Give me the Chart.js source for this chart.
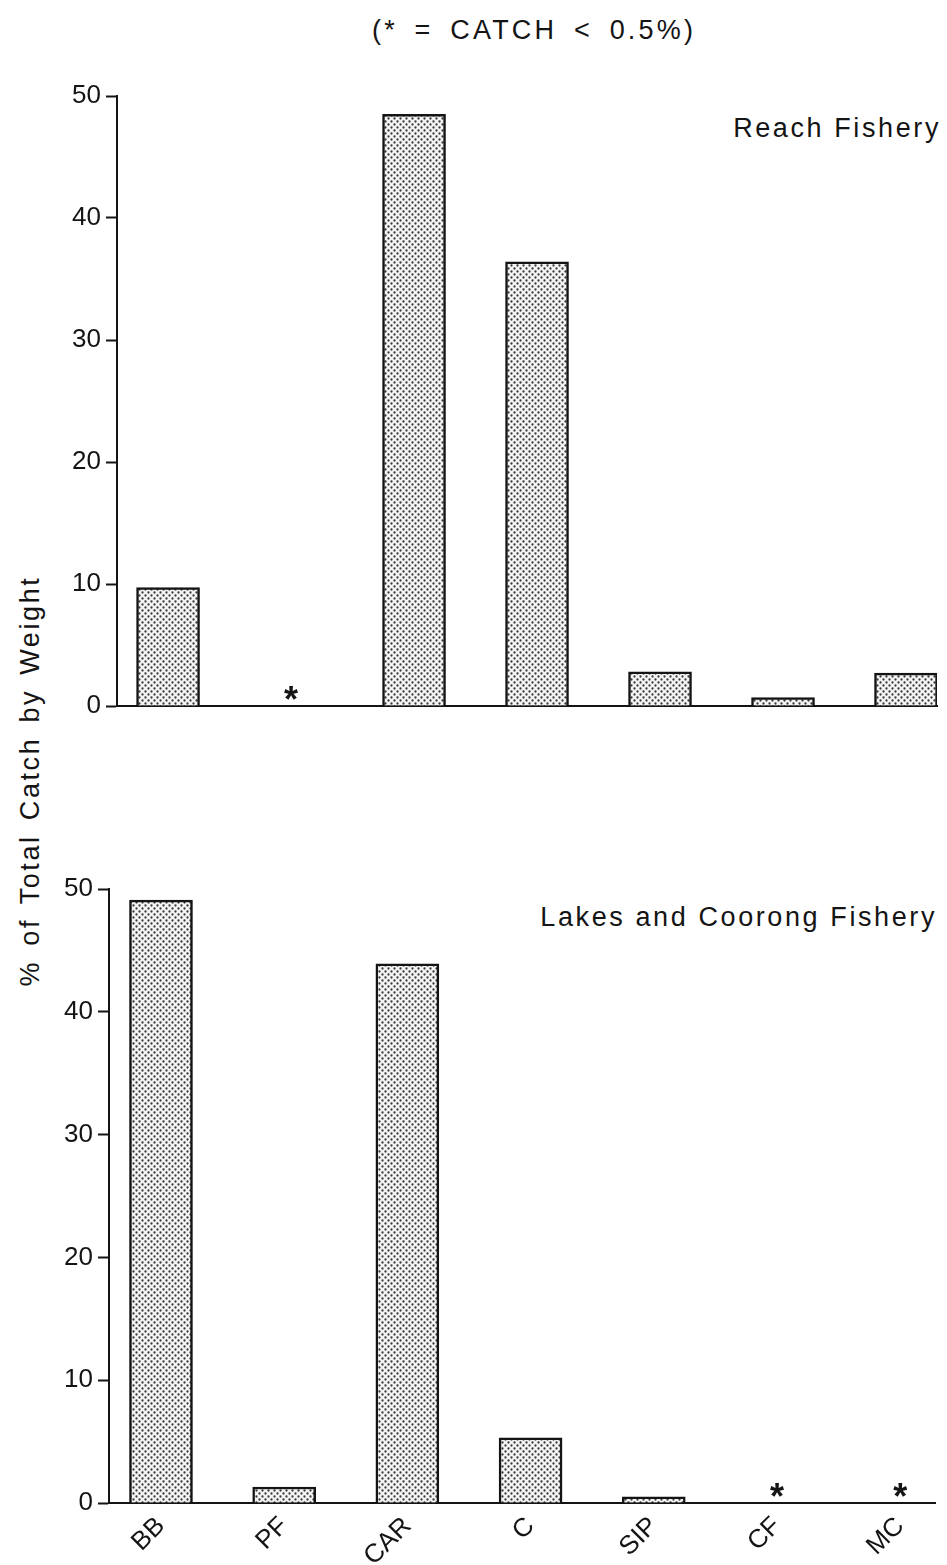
<!DOCTYPE html>
<html>
<head>
<meta charset="utf-8">
<script src="https://cdn.jsdelivr.net/npm/chart.js@4/dist/chart.umd.min.js"></script>
<style>
  html, body { margin: 0; padding: 0; background: #fff; }
  body {
    width: 947px; height: 1565px; position: relative; overflow: hidden;
    font-family: "Liberation Sans", Arial, Helvetica, sans-serif; color: #141414;
  }
  canvas { position: absolute; left: 0; }
  #reachCanvas { top: 0; }
  #lakesCanvas { top: 760px; }
  .note { position: absolute; font-size: 27px; letter-spacing: 2.6px; white-space: nowrap; line-height: 1; }
  #heading { left: 372px; top: 17px; letter-spacing: 3.2px; word-spacing: 6px; }
  #reachLabel { right: 6px; top: 115px; }
  #lakesLabel { right: 10px; top: 904px; }
  #yTitle { left: 30px; top: 781px; transform: translate(-50%, -50%) rotate(-90deg); word-spacing: 4px; }
</style>
</head>
<body>
<div class="note" id="heading">(* = CATCH &lt; 0.5%)</div>
<div class="note" id="reachLabel">Reach Fishery</div>
<div class="note" id="lakesLabel">Lakes and Coorong Fishery</div>
<div class="note" id="yTitle">% of Total Catch by Weight</div>
<canvas id="reachCanvas" width="947" height="760"></canvas>
<canvas id="lakesCanvas" width="947" height="805"></canvas>
<script>
// Species groups along the x axis
const categories = ['BB', 'PF', 'CAR', 'C', 'SIP', 'CF', 'MC'];
// % of total catch by weight; null = trace catch (< 0.5 %), shown as '*'
const reachCatch = [9.7, null, 48.5, 36.4, 2.8, 0.7, 2.7];
const lakesCatch = [49.1, 1.3, 43.9, 5.3, 0.5, null, null];
const yTicks = [0, 10, 20, 30, 40, 50];
const traceMark = '*';

const FONT = '"Liberation Sans", Arial, Helvetica, sans-serif';
const INK = '#141414';

// Dotted screen fill used for the bars
function stipple() {
  const t = document.createElement('canvas');
  t.width = 6; t.height = 6;
  const c = t.getContext('2d');
  c.fillStyle = '#f4f4f4';
  c.fillRect(0, 0, 6, 6);
  c.fillStyle = '#3a3a3a';
  [[1.5, 1.5], [4.5, 4.5]].forEach(([dx, dy]) => {
    c.beginPath();
    c.arc(dx, dy, 1.15, 0, Math.PI * 2);
    c.fill();
  });
  return c.createPattern(t, 'repeat');
}

// Asterisks for trace catches, placed just above the zero line
const traceMarks = {
  id: 'traceMarks',
  afterDatasetsDraw(chart) {
    const { ctx, scales: { x, y } } = chart;
    ctx.save();
    ctx.font = 'bold 36px ' + FONT;
    ctx.fillStyle = INK;
    ctx.textAlign = 'center';
    ctx.textBaseline = 'alphabetic';
    const m = ctx.measureText(traceMark);
    chart.data.datasets[0].data.forEach(pt => {
      if (pt.y !== null) return;
      const cx = x.getPixelForValue(pt.x);
      const cy = y.getPixelForValue(0) - 13;
      ctx.fillText(traceMark, cx, cy + (m.actualBoundingBoxAscent - m.actualBoundingBoxDescent) / 2);
    });
    ctx.restore();
  }
};

function makePanel(canvas, values, cfg) {
  const fill = stipple();
  return new Chart(canvas, {
    type: 'bar',
    data: {
      datasets: [{
        data: values.map((v, i) => ({ x: i, y: v })),
        backgroundColor: fill,
        borderColor: INK,
        borderWidth: 2.5,
        barThickness: 63
      }]
    },
    options: {
      responsive: false,
      animation: false,
      events: [],
      layout: { padding: { top: cfg.padTop, right: cfg.padRight, left: 0, bottom: 0 } },
      plugins: { legend: { display: false }, tooltip: { enabled: false }, title: { display: false } },
      scales: {
        x: {
          type: 'linear',
          min: cfg.xMin,
          max: cfg.xMax,
          offset: false,
          afterBuildTicks: s => { s.ticks = categories.map((_, i) => ({ value: i })); },
          afterFit: s => { s.height = cfg.axisHeight; },
          grid: { display: false, drawTicks: false },
          border: { display: true, color: INK, width: 2 },
          ticks: {
            display: cfg.showLabels,
            autoSkip: false,
            minRotation: 45,
            maxRotation: 45,
            padding: 8,
            color: INK,
            font: { family: FONT, size: 26 },
            callback: v => categories[v]
          }
        },
        y: {
          min: 0,
          max: 50,
          afterBuildTicks: s => { s.ticks = yTicks.map(v => ({ value: v })); },
          afterFit: s => { s.width = cfg.yWidth; },
          grid: { drawOnChartArea: false, drawTicks: true, tickLength: 11, tickColor: INK, tickWidth: 2 },
          border: { display: true, color: INK, width: 2 },
          ticks: { color: INK, padding: 5, font: { family: FONT, size: 26 } }
        }
      }
    },
    plugins: [traceMarks]
  });
}

makePanel(document.getElementById('reachCanvas'), reachCatch, {
  padTop: 96, padRight: 10, axisHeight: 54, yWidth: 117,
  xMin: -0.415, xMax: 6.252, showLabels: false
});

makePanel(document.getElementById('lakesCanvas'), lakesCatch, {
  padTop: 129, padRight: 12, axisHeight: 62, yWidth: 109,
  xMin: -0.422, xMax: 6.283, showLabels: true
});
</script>
</body>
</html>
